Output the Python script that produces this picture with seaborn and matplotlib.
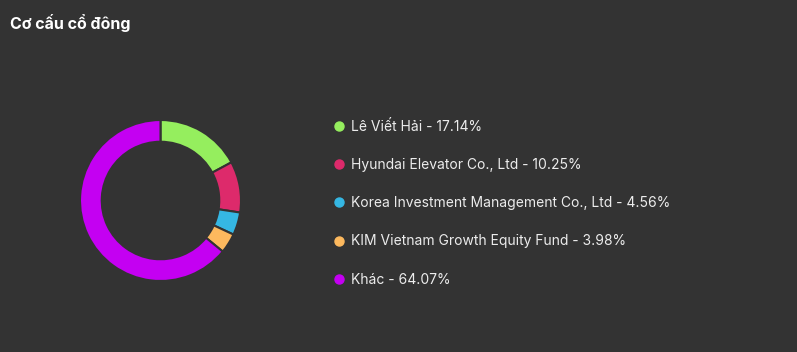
import matplotlib
matplotlib.use("Agg")
import matplotlib.pyplot as plt
import seaborn as sns
from matplotlib.lines import Line2D

# shareholder structure
holders = ['Lê Viết Hải', 'Hyundai Elevator Co., Ltd', 'Korea Investment Management Co., Ltd',
           'KIM Vietnam Growth Equity Fund', 'Khác']
shares = [17.14, 10.25, 4.56, 3.98, 64.07]
colors = ['#95ee5e', '#dd2a6b', '#35b7e3', '#fdb95e', '#c400f2']

bg = '#333333'
sns.set_theme(style='dark')
plt.rcParams['font.family'] = ['Inter', 'DejaVu Sans']

fig = plt.figure(figsize=(7.97, 3.52), dpi=100, facecolor=bg)
ax = fig.add_axes([80 / 797, 71 / 352, 161 / 797, 161 / 352])
ax.set_facecolor(bg)

ax.pie(shares, colors=colors, startangle=90, counterclock=False,
       wedgeprops=dict(width=0.27, edgecolor=bg, linewidth=1.5))
ax.set_xlim(-1, 1)
ax.set_ylim(-1, 1)
ax.set_aspect('equal')

fig.text(10 / 797, 1 - 23 / 352, 'Cơ cấu cổ đông', color='white',
         fontsize=11.5, fontweight='bold', va='center', ha='left')

handles = [Line2D([0], [0], marker='o', linestyle='', markersize=6.5,
                  markerfacecolor=c, markeredgecolor=c) for c in colors]
labels = [f'{h} - {s:.2f}%' for h, s in zip(holders, shares)]
leg = fig.legend(handles, labels, loc='upper left', bbox_to_anchor=(328 / 797, 1 - 114 / 352),
                 frameon=False, fontsize=10, labelspacing=1.75, handlelength=0.8,
                 handletextpad=0.45, borderaxespad=0)
for t in leg.get_texts():
    t.set_color('#ececec')

fig.savefig('out.png', dpi=100, facecolor=bg)
